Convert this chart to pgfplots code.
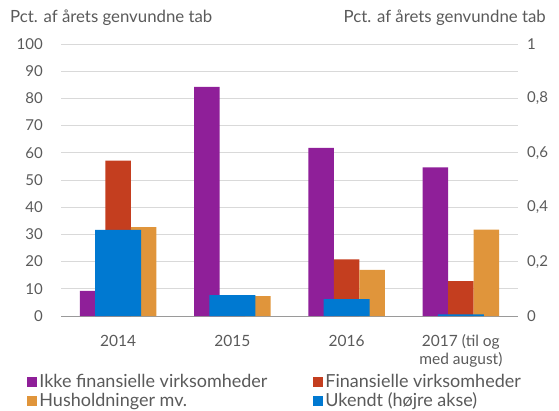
\documentclass[border=0pt]{standalone}
\usepackage{pgfplots}
\pgfplotsset{compat=1.18}
\usepackage{fontspec}
\setmainfont{Lato}
\definecolor{cpurple}{HTML}{8F1F99}
\definecolor{cred}{HTML}{C43E1F}
\definecolor{corange}{HTML}{E0953B}
\definecolor{cblue}{HTML}{0079D1}
\definecolor{ctext}{HTML}{5A5A5A}
\definecolor{cgrid}{HTML}{D9D9D9}
\definecolor{caxis}{HTML}{9A9A9A}
\begin{document}
\begin{tikzpicture}[font=\fontsize{15pt}{18pt}\selectfont, every node/.style={text=ctext}]
\useasboundingbox (0,0) rectangle (559pt,410pt);
\begin{axis}[
  at={(61pt,94pt)}, anchor=south west,
  scale only axis, width=457pt, height=272pt,
  xmin=-0.5, xmax=3.5, ymin=0, ymax=100,
  ybar=0pt, bar width=25.5pt,
  xtick={0,1,2,3},
  xticklabels={2014,2015,2016,{2017 (til og\\med august)}},
  xticklabel style={align=center, anchor=north, yshift=-11pt, font=\fontsize{15.5pt}{18pt}\selectfont},
  major x tick style={draw=none},
  extra x ticks={-0.5,0.5,1.5,2.5,3.5},
  extra x tick labels={},
  extra x tick style={major tick length=5pt, tick align=inside, tick style={draw=caxis, line width=0.8pt}},
  ytick={0,10,...,100},
  yticklabel style={anchor=east, inner sep=0pt, xshift=-18pt},
  /pgf/number format/assume math mode=true,
  axis x line*=bottom, axis y line*=left,
  x axis line style={draw=caxis, line width=1pt, -},
  y axis line style={draw=none},
  major y tick style={draw=none},
  ymajorgrids, grid style={draw=cgrid, line width=0.8pt},
  legend columns=2,
  legend cell align=left,
  legend style={draw=none, fill=none, at={(-0.074,-0.206)}, anchor=north west,
    font=\fontsize{18pt}{18pt}\selectfont, row sep=0pt, inner sep=0pt,
    /tikz/every even column/.append style={column sep=0pt}},
  legend image code/.code={\fill[#1] (0pt,-5pt) rectangle (10pt,5pt);},
]
\addplot[fill=cpurple, draw=none] coordinates {(0,9.2) (1,84.2) (2,61.8) (3,54.6)};
\addplot[fill=cred, draw=none] coordinates {(0,57.1) (1,7.3) (2,20.8) (3,12.8)};
\addplot[fill=corange, draw=none] coordinates {(0,32.7) (1,7.3) (2,17.0) (3,31.8)};
\addlegendimage{fill=cblue, draw=none}
\legend{\makebox[272pt][l]{Ikke finansielle virksomheder}, Finansielle virksomheder, \makebox[272pt][l]{Husholdninger mv.}, Ukendt (højre akse)}
\end{axis}
\begin{axis}[
  at={(61pt,94pt)}, anchor=south west,
  scale only axis, width=457pt, height=272pt,
  xmin=-0.5, xmax=3.5, ymin=0, ymax=1,
  ybar, bar width=46pt,
  axis x line=none, axis y line*=right,
  y axis line style={draw=none},
  major y tick style={draw=none},
  ytick={0,0.2,...,1.01},
  yticklabel style={anchor=west, inner sep=0pt, xshift=9pt, /pgf/number format/.cd, use comma, fixed, precision=1},
  /pgf/number format/assume math mode=true,
]
\addplot[fill=cblue, draw=none] coordinates {(0,0.317) (1,0.077) (2,0.062) (3,0.006)};
\end{axis}
\node[anchor=west, inner sep=0pt, font=\fontsize{16.8pt}{18pt}\selectfont] at (10pt,392pt) {Pct. af årets genvundne tab};
\node[anchor=east, inner sep=0pt, font=\fontsize{16.8pt}{18pt}\selectfont] at (546pt,392pt) {Pct. af årets genvundne tab};
\end{tikzpicture}
\end{document}
